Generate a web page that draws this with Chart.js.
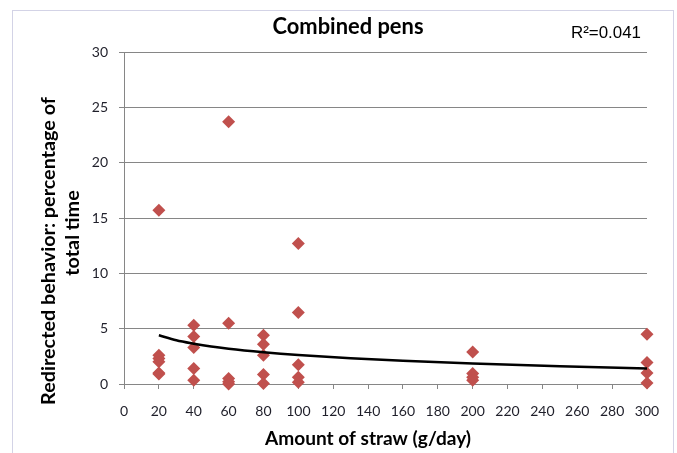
<!DOCTYPE html>
<html>
<head>
<meta charset="utf-8">
<script src="https://cdn.jsdelivr.net/npm/chart.js@4/dist/chart.umd.min.js"></script>
<style>
  html, body { margin: 0; padding: 0; background: #fff; }
  canvas { display: block; }
</style>
</head>
<body>
<canvas id="chart" width="677" height="453"></canvas>
<script>
// scatter points: amount of straw (g/day) and redirected behaviour (% of time)
const strawX = [
  20, 20, 20, 20, 20, 20,
  40, 40, 40, 40, 40,
  60, 60, 60, 60, 60,
  80, 80, 80, 80, 80,
  100, 100, 100, 100, 100,
  200, 200, 200, 200,
  300, 300, 300, 300
];
const behaviorY = [
  15.7, 2.6, 2.3, 2.0, 1.0, 0.9,
  5.3, 4.3, 3.3, 1.4, 0.35,
  23.7, 5.5, 0.5, 0.2, 0.0,
  4.4, 3.6, 2.6, 0.85, 0.05,
  12.7, 6.45, 1.75, 0.6, 0.15,
  2.9, 0.95, 0.6, 0.35,
  4.5, 1.95, 1.0, 0.1
];

// trendline
const trendX = [20, 30, 40, 50, 60, 80, 100, 130, 160, 200, 250, 300];
const trendY = [4.4, 3.95, 3.64, 3.38, 3.18, 2.87, 2.62, 2.33, 2.1, 1.85, 1.6, 1.4];

const chartTitle = "Combined pens";
const rSquared = "R\u00b2=0.041";
const xTitle = "Amount of straw (g/day)";
const yTitle = ["Redirected behavior: percentage of", "total time"];

const gridGrey = "#868686";
const markerRed = "#c0504d";

// size a font so the text spans the width seen in the picture
function fitFont(ctx, text, weight, family, width) {
  ctx.font = weight + " 20px " + family;
  const size = 20 * width / ctx.measureText(text).width;
  return weight + " " + size.toFixed(1) + "px " + family;
}

const frame = {
  id: "frame",
  beforeDraw(chart) {
    const ctx = chart.ctx;
    ctx.save();
    ctx.fillStyle = "#fff";
    ctx.fillRect(0, 0, chart.width, chart.height);
    ctx.strokeStyle = "#d3d3e6";
    ctx.lineWidth = 1;
    ctx.strokeRect(12.5, 10.5, 661, 470);
    ctx.restore();
  },
  afterDraw(chart) {
    const ctx = chart.ctx;
    ctx.save();
    ctx.fillStyle = "#000";
    ctx.textBaseline = "alphabetic";

    ctx.textAlign = "center";
    ctx.font = fitFont(ctx, chartTitle, "bold", "Lato", 151);
    ctx.fillText(chartTitle, 348, 34);

    ctx.textAlign = "left";
    ctx.font = fitFont(ctx, rSquared, "normal", "'Liberation Sans'", 70);
    ctx.fillText(rSquared, 571, 38);

    ctx.textAlign = "center";
    ctx.font = fitFont(ctx, xTitle, "bold", "Lato", 206);
    ctx.fillText(xTitle, 368, 445);

    const yFont = fitFont(ctx, yTitle[0], "bold", "Lato", 308);
    ctx.font = yFont;
    ctx.translate(55, 251);
    ctx.rotate(-Math.PI / 2);
    ctx.fillText(yTitle[0], 0, 0);
    ctx.fillText(yTitle[1], 18, 24);
    ctx.restore();
  }
};

new Chart(document.getElementById("chart").getContext("2d"), {
  data: {
    datasets: [
      {
        type: "line",
        label: "Trend",
        data: trendX.map((x, i) => ({ x: x, y: trendY[i] })),
        borderColor: "#000",
        borderWidth: 2.5,
        pointRadius: 0,
        cubicInterpolationMode: "monotone",
        fill: false,
        clip: false,
        order: 0
      },
      {
        type: "scatter",
        label: "Combined pens",
        data: strawX.map((x, i) => ({ x: x, y: behaviorY[i] })),
        pointStyle: "rectRot",
        pointRadius: 6.5,
        backgroundColor: markerRed,
        borderColor: markerRed,
        borderWidth: 0,
        clip: false,
        order: 1
      }
    ]
  },
  options: {
    responsive: false,
    animation: false,
    layout: { padding: { top: 52, right: 30, left: 0, bottom: 0 } },
    plugins: {
      legend: { display: false },
      tooltip: { enabled: false },
      title: { display: false }
    },
    scales: {
      x: {
        type: "linear",
        min: 0,
        max: 300,
        afterFit(scale) { scale.height = 69; },
        grid: { drawOnChartArea: false, drawTicks: true, tickLength: 5, color: gridGrey },
        border: { color: gridGrey },
        ticks: { stepSize: 20, color: "#1f1f2a", padding: 14, font: { family: "Lato", size: 14 } }
      },
      y: {
        min: 0,
        max: 30,
        afterFit(scale) { scale.width = 124; },
        grid: { color: gridGrey, tickLength: 5 },
        border: { color: gridGrey },
        ticks: { stepSize: 5, color: "#1f1f2a", padding: 11, font: { family: "Lato", size: 14 } }
      }
    }
  },
  plugins: [frame]
});
</script>
</body>
</html>
